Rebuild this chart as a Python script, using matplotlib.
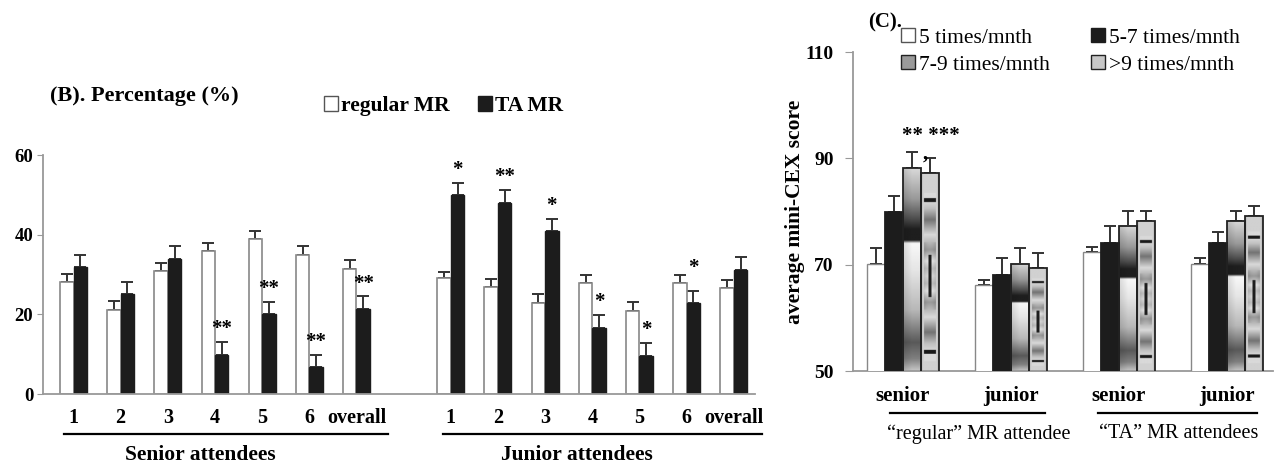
import numpy as np
import matplotlib
matplotlib.use("Agg")
import matplotlib.pyplot as plt
from matplotlib.patches import Patch
import matplotlib.transforms as mtransforms

plt.rcParams['font.family'] = ['Liberation Serif', 'DejaVu Serif']

# ---- panel B data (percentage) ----
groups_b = ['1', '2', '3', '4', '5', '6', 'overall']
senior_reg = [28.2, 21.1, 31.0, 36.0, 38.8, 34.9, 31.4]
senior_reg_err = [1.9, 2.2, 1.8, 1.9, 2.2, 2.2, 2.2]
senior_ta = [31.8, 25.1, 33.9, 9.8, 20.0, 6.9, 21.3]
senior_ta_err = [3.1, 3.0, 3.3, 3.2, 3.2, 3.0, 3.2]
junior_reg = [29.1, 26.9, 22.9, 27.9, 20.9, 27.9, 26.6]
junior_reg_err = [1.5, 2.0, 2.1, 2.1, 2.1, 2.1, 2.0]
junior_ta = [50.0, 48.0, 41.0, 16.6, 9.6, 22.9, 31.2]
junior_ta_err = [3.0, 3.3, 3.0, 3.2, 3.2, 3.0, 3.2]
senior_sig = ['', '', '', '**', '**', '**', '**']
junior_sig = ['*', '**', '*', '*', '*', '*', '']

# ---- panel C data (mini-CEX score) ----
groups_c = ['senior', 'junior', 'senior', 'junior']
freq_labels = ['5 times/mnth', '5-7 times/mnth', '7-9 times/mnth', '>9 times/mnth']
freq5 = [70.1, 66.2, 72.4, 70.1]
freq5_err = [3.0, 1.0, 0.9, 1.1]
freq57 = [79.9, 68.0, 74.1, 74.0]
freq57_err = [3.1, 3.2, 3.2, 2.2]
freq79 = [88.1, 70.2, 77.3, 78.2]
freq79_err = [3.0, 2.9, 2.8, 1.9]
freq9 = [87.2, 69.3, 78.2, 79.1]
freq9_err = [2.8, 2.9, 1.9, 1.9]

fig = plt.figure(figsize=(12.74, 4.65), dpi=100)

# ================= panel B =================
axB = fig.add_axes([43/1274, 71/465, 712/1274, 239/465])
w = 0.286
xs_sen = np.arange(7)
xs_jun = np.arange(7) + 8
xs_all = np.concatenate([xs_sen, xs_jun])
reg = senior_reg + junior_reg
reg_err = senior_reg_err + junior_reg_err
ta = senior_ta + junior_ta
ta_err = senior_ta_err + junior_ta_err
sig = senior_sig + junior_sig

axB.bar(xs_all - w/2, reg, w, color='white', edgecolor='#888888', lw=1.2, zorder=2)
axB.bar(xs_all + w/2, ta, w, color='#1c1c1c', edgecolor='#1c1c1c', lw=1, zorder=2)
axB.errorbar(xs_all - w/2, reg, yerr=[np.zeros(14), reg_err], fmt='none',
             ecolor='#333333', elinewidth=1.4, capsize=4, capthick=1.4, zorder=1)
axB.errorbar(xs_all + w/2, ta, yerr=[np.zeros(14), ta_err], fmt='none',
             ecolor='#333333', elinewidth=1.4, capsize=4, capthick=1.4, zorder=1)
for i, s in enumerate(sig):
    if s:
        off = 9 if i == 12 else 2
        axB.annotate(s, (xs_all[i] + w/2, ta[i] + ta_err[i]), xytext=(0, off),
                     textcoords='offset points', ha='center', va='bottom',
                     fontsize=15, fontweight='bold')

axB.set_xlim(-0.647, 14.45)
axB.set_ylim(0, 60)
axB.set_yticks([0, 20, 40, 60])
axB.set_xticks(xs_all)
axB.set_xticklabels(groups_b + groups_b)
for sp in ['top', 'right']:
    axB.spines[sp].set_visible(False)
for sp in ['left', 'bottom']:
    axB.spines[sp].set_color('#999999')
    axB.spines[sp].set_linewidth(1.3)
axB.tick_params(axis='y', length=4, color='#999999', pad=3, labelsize=13.5)
axB.tick_params(axis='x', length=0, pad=10, labelsize=14.5)
for lab in axB.get_xticklabels() + axB.get_yticklabels():
    lab.set_fontweight('bold')

tB = mtransforms.blended_transform_factory(axB.transData, axB.transAxes)
axB.plot([-0.21, 6.67], [-0.167, -0.167], color='black', lw=1.6, transform=tB, clip_on=False)
axB.plot([7.84, 14.59], [-0.167, -0.167], color='black', lw=1.6, transform=tB, clip_on=False)
axB.text(2.68, -0.255, 'Senior attendees', transform=tB, ha='center', va='center',
         fontsize=15.5, fontweight='bold')
axB.text(10.67, -0.255, 'Junior attendees', transform=tB, ha='center', va='center',
         fontsize=15.5, fontweight='bold')
fig.text(50/1274, 1 - 96/465, '(B). Percentage (%)', ha='left', va='center',
         fontsize=16, fontweight='bold')
legB = axB.legend([Patch(facecolor='white', edgecolor='#555555'),
                   Patch(facecolor='#1c1c1c', edgecolor='#1c1c1c')],
                  ['regular MR', 'TA MR'], ncol=2, frameon=False,
                  loc='center left', bbox_to_anchor=(313/1274, 1 - 106/465),
                  bbox_transform=fig.transFigure, handlelength=0.65, handleheight=0.65,
                  handletextpad=0.15, columnspacing=1.3, borderpad=0,
                  prop={'size': 15.5, 'weight': 'bold'})

# ================= panel C =================
axC = fig.add_axes([853/1274, 94/465, 420/1274, 319/465])
bw = 1/6
xc = np.arange(4)
series = [freq5, freq57, freq79, freq9]
errs = [freq5_err, freq57_err, freq79_err, freq9_err]
offs = [-1.5, -0.5, 0.5, 1.5]
faces = ['white', '#1c1c1c', 'none', 'none']
edges = ['#888888', '#1c1c1c', '#222222', '#222222']
ymin = 50


def profile_79(t):
    tp = [0.0, 0.06, 0.14, 0.3, 0.5, 0.63, 0.645, 0.70, 0.75, 0.85, 1.0]
    vp = [0.78, 0.5, 0.35, 0.72, 0.9, 0.97, 0.12, 0.12, 0.3, 0.6, 0.85]
    return np.interp(t, tp, vp)


def image_79(h=300, wd=20):
    t = np.linspace(1, 0, h)[:, None]
    u = np.linspace(-1, 1, wd)[None, :]
    return profile_79(t) * (1 - 0.12 * np.clip(-u, 0, 1))


def image_9(h=300, wd=24):
    t = np.linspace(1, 0, h)[:, None] * np.ones((1, wd))
    u = np.ones((h, 1)) * np.linspace(-1, 1, wd)[None, :]
    s = np.abs(t - 0.48) / 0.38
    inner = np.interp(s, [0, 0.1, 0.2, 0.35, 0.55, 0.75, 0.9, 1.0],
                      [0.85, 0.75, 0.9, 0.6, 0.85, 0.45, 0.75, 0.85])
    inner = inner * (1 - 0.25 * np.abs(u) ** 2 * (s < 0.45))
    core = (np.abs(u) < 0.15) & (s < 0.28)
    inner = np.where(core, 0.12, inner)
    lines = ((t > 0.855) & (t < 0.875)) | ((t > 0.085) & (t < 0.105))
    img = np.where(lines, 0.1, inner)
    border = (np.abs(u) > 0.72) | (t > 0.9) | (t < 0.05)
    img = np.where(border, 0.82 - 0.1 * (np.abs(u) > 0.9), img)
    img = np.where(lines & (np.abs(u) <= 0.72), 0.1, img)
    return img


imgs = [None, None, image_79(), image_9()]
for k in range(4):
    bars = axC.bar(xc + offs[k] * bw, series[k], bw, color=faces[k], edgecolor=edges[k],
                   lw=1.3 if k != 0 else 1.0, zorder=3)
    if imgs[k] is not None:
        for p in bars:
            axC.imshow(imgs[k], extent=(p.get_x(), p.get_x() + p.get_width(), ymin, p.get_height()),
                       aspect='auto', cmap='gray', vmin=0, vmax=1, zorder=2, interpolation='bilinear')
    axC.errorbar(xc + offs[k] * bw, series[k], yerr=[np.zeros(4), errs[k]], fmt='none',
                 ecolor='#333333', elinewidth=1.4, capsize=4, capthick=1.4, zorder=1)

top79 = freq79[0] + freq79_err[0]
axC.text(0.26, top79 + 4.9, '** ***\n,  ', ha='center', va='top', fontsize=15,
         fontweight='bold', linespacing=0.8)

axC.set_xlim(-0.463, 3.43)
axC.set_ylim(50, 110)
axC.set_yticks([50, 70, 90, 110])
axC.set_xticks(xc)
axC.set_xticklabels(groups_c)
for sp in ['top', 'right']:
    axC.spines[sp].set_visible(False)
for sp in ['left', 'bottom']:
    axC.spines[sp].set_color('#999999')
    axC.spines[sp].set_linewidth(1.3)
axC.tick_params(axis='y', length=6, color='#999999', pad=8, labelsize=14)
axC.tick_params(axis='x', length=0, pad=11, labelsize=15)
for lab in axC.get_xticklabels() + axC.get_yticklabels():
    lab.set_fontweight('bold')
axC.set_ylabel('average mini-CEX score', fontsize=15.5, fontweight='bold', labelpad=0)

tC = mtransforms.blended_transform_factory(axC.transData, axC.transAxes)
axC.plot([-0.12, 1.315], [-0.1317, -0.1317], color='black', lw=1.6, transform=tC, clip_on=False)
axC.plot([1.806, 3.278], [-0.1317, -0.1317], color='black', lw=1.6, transform=tC, clip_on=False)
axC.text(0.70, -0.197, '\u201cregular\u201d MR attendee', transform=tC, ha='center', va='center',
         fontsize=14.5)
axC.text(2.56, -0.197, '\u201cTA\u201d MR attendees', transform=tC, ha='center', va='center',
         fontsize=14.5)
fig.text(868/1274, 1 - 22/465, '(C).', ha='left', va='center', fontsize=15, fontweight='bold')

legC = axC.legend([Patch(facecolor='white', edgecolor='#555555'),
                   Patch(facecolor='#9a9a9a', edgecolor='#222222'),
                   Patch(facecolor='#1c1c1c', edgecolor='#1c1c1c'),
                   Patch(facecolor='#c8c8c8', edgecolor='#222222')],
                  [freq_labels[0], freq_labels[2], freq_labels[1], freq_labels[3]],
                  ncol=2, frameon=False, loc='upper left',
                  bbox_to_anchor=(890/1274, 1 - 17/465), bbox_transform=fig.transFigure,
                  handlelength=0.65, handleheight=0.65, handletextpad=0.2,
                  columnspacing=1.9, labelspacing=0.35, borderpad=0,
                  prop={'size': 15.5})

fig.savefig('out.png', dpi=100)
